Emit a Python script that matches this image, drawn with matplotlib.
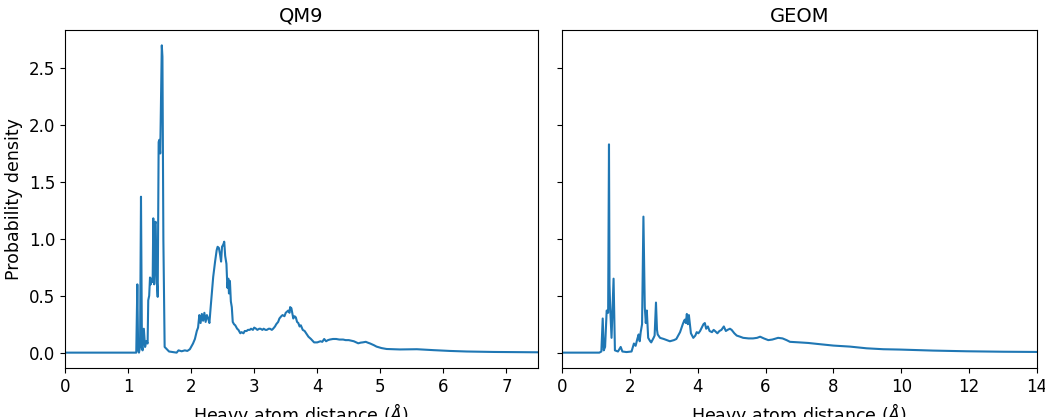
import matplotlib
matplotlib.use("Agg")
import matplotlib.pyplot as plt

# QM9 heavy atom distance density
qm9_x = [0.0, 1.10, 1.13, 1.147, 1.16, 1.173, 1.19, 1.205, 1.22, 1.23, 1.25, 1.27,
         1.29, 1.31, 1.32, 1.335, 1.348, 1.36, 1.375, 1.39, 1.40, 1.415, 1.425,
         1.438, 1.45, 1.47, 1.485, 1.496, 1.51, 1.535, 1.545, 1.56, 1.58, 1.65,
         1.77, 1.80, 1.85, 1.90, 1.94, 1.98, 2.03, 2.06, 2.09, 2.11, 2.13, 2.15,
         2.17, 2.19, 2.21, 2.23, 2.25, 2.27, 2.29, 2.31, 2.35, 2.38, 2.405, 2.42,
         2.44, 2.46, 2.475, 2.49, 2.51, 2.525, 2.54, 2.56, 2.575, 2.59, 2.60,
         2.615, 2.63, 2.645, 2.66, 2.68, 2.70, 2.73, 2.75, 2.78, 2.80, 2.83, 2.85,
         2.88, 2.90, 2.93, 2.95, 2.98, 3.00, 3.03, 3.05, 3.08, 3.10, 3.13, 3.15,
         3.18, 3.20, 3.23, 3.25, 3.28, 3.30, 3.33, 3.35, 3.38, 3.40, 3.43, 3.45,
         3.48, 3.50, 3.52, 3.54, 3.56, 3.57, 3.59, 3.60, 3.62, 3.64, 3.66, 3.68,
         3.70, 3.72, 3.74, 3.77, 3.80, 3.83, 3.86, 3.90, 3.95, 4.00, 4.05, 4.08,
         4.11, 4.14, 4.17, 4.20, 4.25, 4.30, 4.35, 4.41, 4.45, 4.50, 4.54, 4.58,
         4.62, 4.65, 4.69, 4.72, 4.77, 4.80, 4.84, 4.90, 4.94, 5.02, 5.10, 5.20,
         5.31, 5.45, 5.58, 5.70, 5.84, 6.10, 6.37, 6.80, 7.20, 7.50]
qm9_y = [0.0, 0.0, 0.0, 0.60, 0.02, 0.0, 0.05, 1.37, 0.05, 0.02, 0.21, 0.05,
         0.10, 0.08, 0.46, 0.50, 0.66, 0.60, 0.65, 0.62, 1.18, 0.60, 1.13,
         1.15, 0.70, 0.49, 1.85, 1.87, 1.75, 2.70, 2.60, 0.99, 0.05, 0.01,
         0.0, 0.02, 0.012, 0.02, 0.015, 0.03, 0.08, 0.12, 0.19, 0.22, 0.33, 0.26,
         0.34, 0.28, 0.35, 0.27, 0.33, 0.30, 0.26, 0.40, 0.665, 0.80, 0.90, 0.93,
         0.92, 0.86, 0.80, 0.93, 0.95, 0.975, 0.85, 0.78, 0.57, 0.65, 0.52,
         0.63, 0.45, 0.40, 0.27, 0.25, 0.24, 0.21, 0.20, 0.17, 0.18, 0.17, 0.19,
         0.19, 0.20, 0.20, 0.21, 0.20, 0.22, 0.21, 0.20, 0.21, 0.21, 0.20, 0.21,
         0.20, 0.20, 0.21, 0.21, 0.20, 0.21, 0.23, 0.25, 0.27, 0.30, 0.32, 0.33,
         0.32, 0.35, 0.36, 0.37, 0.35, 0.40, 0.39, 0.36, 0.30, 0.32, 0.31, 0.27,
         0.26, 0.23, 0.24, 0.20, 0.19, 0.165, 0.14, 0.12, 0.09, 0.09, 0.10, 0.095,
         0.12, 0.10, 0.11, 0.115, 0.12, 0.12, 0.115, 0.115, 0.11, 0.11, 0.105, 0.10,
         0.09, 0.082, 0.088, 0.09, 0.095, 0.088, 0.08, 0.065, 0.053, 0.04, 0.032, 0.03,
         0.028, 0.029, 0.03, 0.026, 0.022, 0.015, 0.01, 0.006, 0.004, 0.003]

# GEOM heavy atom distance density
geom_x = [0.0, 1.10, 1.16, 1.20, 1.23, 1.27, 1.317, 1.36, 1.385, 1.40, 1.42, 1.46,
          1.52, 1.56, 1.65, 1.73, 1.78, 1.90, 2.05, 2.12, 2.17, 2.22, 2.26, 2.29,
          2.32, 2.36, 2.40, 2.44, 2.47, 2.50, 2.54, 2.60, 2.63, 2.70, 2.73, 2.77,
          2.80, 2.82, 2.89, 3.00, 3.18, 3.30, 3.37, 3.48, 3.56, 3.60, 3.62, 3.65,
          3.68, 3.71, 3.74, 3.77, 3.80, 3.87, 3.93, 3.97, 4.02, 4.07, 4.12, 4.17,
          4.21, 4.25, 4.30, 4.35, 4.42, 4.47, 4.51, 4.58, 4.64, 4.70, 4.77, 4.83,
          4.88, 4.95, 5.00, 5.08, 5.15, 5.25, 5.34, 5.50, 5.63, 5.75, 5.84, 5.95,
          6.08, 6.20, 6.37, 6.50, 6.62, 6.72, 7.00, 7.26, 7.51, 8.00, 8.49, 8.98,
          9.47, 9.96, 10.94, 11.93, 13.00, 14.00]
geom_y = [0.0, 0.0, 0.01, 0.30, 0.02, 0.05, 0.37, 0.35, 1.83, 0.60, 0.40, 0.13,
          0.65, 0.02, 0.01, 0.05, 0.01, 0.005, 0.01, 0.08, 0.06, 0.12, 0.16, 0.10,
          0.18, 0.25, 1.195, 0.40, 0.26, 0.37, 0.13, 0.10, 0.09, 0.13, 0.15, 0.44,
          0.20, 0.16, 0.13, 0.12, 0.10, 0.11, 0.12, 0.18, 0.25, 0.28, 0.29, 0.26,
          0.34, 0.25, 0.33, 0.25, 0.17, 0.13, 0.15, 0.18, 0.17, 0.19, 0.22, 0.25,
          0.26, 0.21, 0.23, 0.19, 0.18, 0.20, 0.19, 0.17, 0.19, 0.20, 0.23, 0.19,
          0.20, 0.21, 0.20, 0.17, 0.15, 0.14, 0.13, 0.125, 0.125, 0.13, 0.14, 0.125,
          0.11, 0.115, 0.13, 0.125, 0.11, 0.095, 0.09, 0.085, 0.077, 0.062, 0.053, 0.038,
          0.03, 0.027, 0.018, 0.012, 0.008, 0.006]

qm9_xticks = [0, 1, 2, 3, 4, 5, 6, 7]
geom_xticks = [0, 2, 4, 6, 8, 10, 12, 14]
yticks = [0.0, 0.5, 1.0, 1.5, 2.0, 2.5]

fig = plt.figure(figsize=(10.45, 4.17), dpi=100)
ax1 = fig.add_axes([0.0622, 0.1175, 0.4526, 0.8106])
ax2 = fig.add_axes([0.5378, 0.1175, 0.4545, 0.8106], sharey=ax1)

ax1.plot(qm9_x, qm9_y, color="#1f77b4", linewidth=1.5)
ax2.plot(geom_x, geom_y, color="#1f77b4", linewidth=1.5)

ax1.set_xlim(0, 7.5)
ax2.set_xlim(0, 14)
ax1.set_ylim(-0.135, 2.835)
ax1.set_xticks(qm9_xticks)
ax2.set_xticks(geom_xticks)
ax1.set_yticks(yticks)
ax2.tick_params(labelleft=False)

ax1.set_title("QM9", fontsize=14)
ax2.set_title("GEOM", fontsize=14)
ax1.set_ylabel("Probability density", fontsize=12.5)
for ax in (ax1, ax2):
    ax.set_xlabel("Heavy atom distance ($\\AA$)", fontsize=12.5)
    ax.tick_params(labelsize=12)

fig.savefig("out.png", dpi=100)
